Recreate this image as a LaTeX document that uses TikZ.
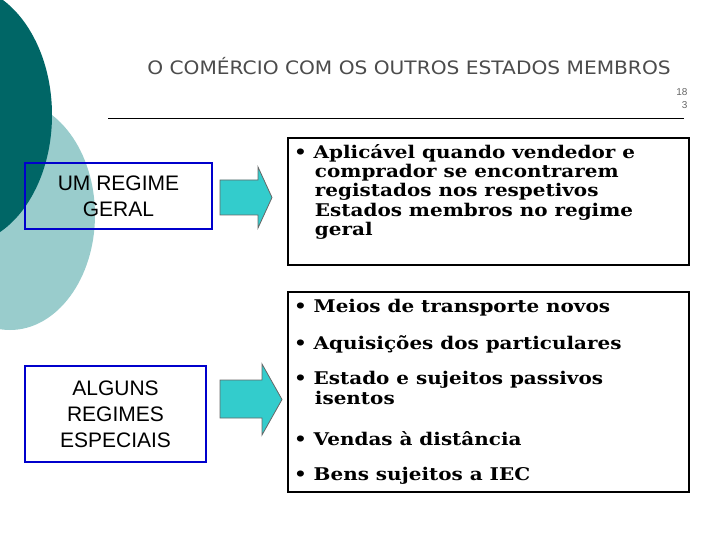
\documentclass[tikz,border=0pt]{standalone}
\usepackage{fontspec}
\setmainfont{DejaVu Serif}
\newfontfamily\arialf{Liberation Sans}
\newfontfamily\titlef{DejaVu Sans}
\definecolor{darkteal}{HTML}{006666}
\definecolor{lightteal}{HTML}{99CCCC}
\definecolor{arrowfill}{HTML}{33CCCC}
\tikzset{
  regime/.style={draw=blue!80!black, line width=2.5pt, align=center, font=\arialf\fontsize{21}{26}\selectfont},
  listbox/.style={draw=black, line width=2.5pt},
  bigarrow/.style={draw=black!60, fill=arrowfill, line width=0.8pt}
}
\begin{document}
\begin{tikzpicture}[x=1pt,y=-1pt]
\useasboundingbox (0,0) rectangle (720,540);
% background
\fill[lightteal] (10,215) ellipse (85 and 115);
\fill[darkteal] (-40,115) ellipse (92 and 130);
\clip (0,0) rectangle (720,540);
% title
\node[font=\titlef\fontsize{18.5}{20}\selectfont, text=black!70, xscale=1.09] (title) at (409,66) {O COMÉRCIO COM OS OUTROS ESTADOS MEMBROS};
\node[font=\arialf\fontsize{10}{13}\selectfont, text=black!60, align=right, anchor=east] (num) at (691,99) {18\\3};
\draw[line width=1pt] (108,119) -- (684,119);

% left boxes
\node[regime, minimum width=187, minimum height=66] (geral) at (118.5,196) {UM REGIME\\GERAL};
\node[regime, minimum width=181, minimum height=96] (especiais) at (115.5,414) {ALGUNS\\REGIMES\\ESPECIAIS};

% arrows
\draw[bigarrow] (220,180) -- (258,180) -- (258,167) -- (272,197.5) -- (258,228) -- (258,215) -- (220,215) -- cycle;
\draw[bigarrow] (220,380) -- (262,380) -- (262,364) -- (282,399.5) -- (262,435) -- (262,418) -- (220,418) -- cycle;

% right boxes
\draw[listbox] (288,138) rectangle (689,265);
\draw[listbox] (288,292) rectangle (689,492);
\begin{scope}[every node/.style={anchor=north west, align=left, font=\bfseries\fontsize{17.5}{24}\selectfont, xscale=1.14}]
\node (l1) at (290,141) {• Aplicável quando vendedor e\\[-0.2\baselineskip]\hspace*{1.05em}comprador se encontrarem\\[-0.2\baselineskip]\hspace*{1.05em}registados nos respetivos\\[-0.2\baselineskip]\hspace*{1.05em}Estados membros no regime\\[-0.2\baselineskip]\hspace*{1.05em}geral};
\node (l2) at (290,296) {• Meios de transporte novos};
\node (l3) at (290,332) {• Aquisições dos particulares};
\node (l4) at (290,368) {• Estado e sujeitos passivos\\[-0.2\baselineskip]\hspace*{1.05em}isentos};
\node (l5) at (290,428) {• Vendas à distância};
\node (l6) at (290,464) {• Bens sujeitos a IEC};
\end{scope}
\end{tikzpicture}
\end{document}
